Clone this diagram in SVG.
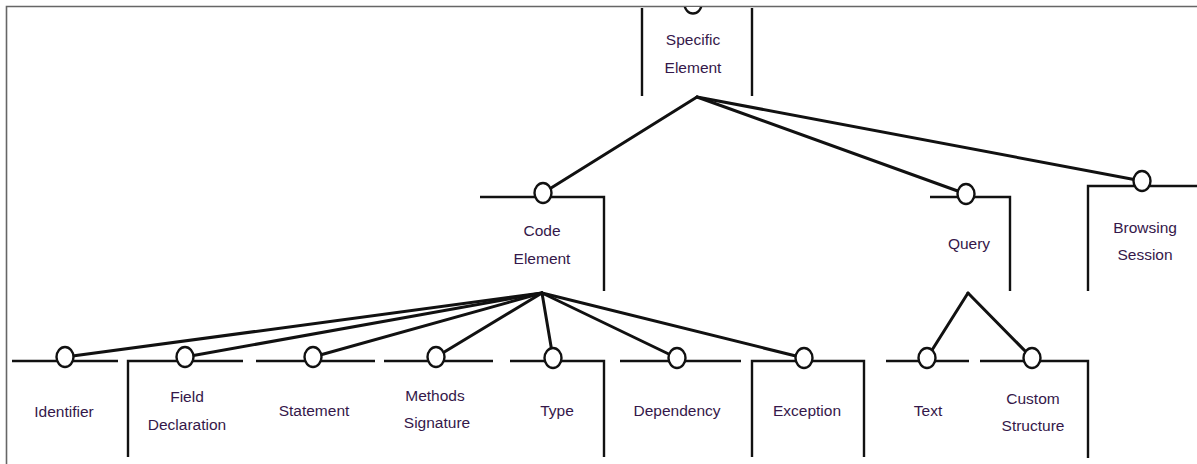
<svg xmlns="http://www.w3.org/2000/svg" width="1197" height="464" viewBox="0 0 1197 464">
  <style>
    .frame { fill: none; stroke: #666; stroke-width: 1.6; }
    .box { fill: none; stroke: #111; stroke-width: 2.4; stroke-linecap: butt; }
    .port { fill: #fff; stroke: #111; stroke-width: 2.4; }
    .link { fill: none; stroke: #111; stroke-width: 3; stroke-linecap: round; }
    .label { font-family: "Liberation Sans", Arial, sans-serif; font-size: 15.5px; fill: #35184a; text-anchor: middle; }
  </style>
  <defs>
    <clipPath id="below-frame">
      <rect x="7" y="7" width="1190" height="457"/>
    </clipPath>
  </defs>

  <!-- page frame -->
  <path class="frame" d="M6.5,464 V6.5 H1197"/>

  <!-- connectors -->
  <g id="connectors">
    <line class="link" x1="697" y1="97" x2="543" y2="193"/>
    <line class="link" x1="697" y1="97" x2="966" y2="194"/>
    <line class="link" x1="697" y1="97" x2="1142" y2="181"/>
    <line class="link" x1="542" y1="293" x2="65" y2="357"/>
    <line class="link" x1="542" y1="293" x2="185" y2="357"/>
    <line class="link" x1="542" y1="293" x2="313" y2="357"/>
    <line class="link" x1="542" y1="293" x2="436" y2="357"/>
    <line class="link" x1="542" y1="293" x2="553" y2="358"/>
    <line class="link" x1="542" y1="293" x2="677" y2="358"/>
    <line class="link" x1="542" y1="293" x2="804" y2="358"/>
    <line class="link" x1="968" y1="293" x2="927" y2="358"/>
    <line class="link" x1="968" y1="293" x2="1032" y2="358"/>
  </g>

  <g id="specific-element">
    <path class="box" d="M642,8 V96 M752,8 V96"/>
    <ellipse class="port" cx="693" cy="4" rx="8.5" ry="9.5" clip-path="url(#below-frame)"/>
    <text class="label" x="693" y="45">Specific</text>
    <text class="label" x="693" y="73">Element</text>
  </g>

  <g id="code-element">
    <path class="box" d="M480,197 H604 V291"/>
    <ellipse class="port" cx="543" cy="193" rx="8.5" ry="10"/>
    <text class="label" x="542" y="236">Code</text>
    <text class="label" x="542" y="264">Element</text>
  </g>

  <g id="query">
    <path class="box" d="M930,197 H1010 V291"/>
    <ellipse class="port" cx="966" cy="194" rx="8.5" ry="10"/>
    <text class="label" x="969" y="249">Query</text>
  </g>

  <g id="browsing-session">
    <path class="box" d="M1197,186 H1088 V291"/>
    <ellipse class="port" cx="1142" cy="181" rx="8.5" ry="10"/>
    <text class="label" x="1145" y="233">Browsing</text>
    <text class="label" x="1145" y="260">Session</text>
  </g>

  <g id="identifier">
    <path class="box" d="M12,361 H118"/>
    <ellipse class="port" cx="65" cy="357" rx="8.5" ry="10"/>
    <text class="label" x="64" y="417">Identifier</text>
  </g>

  <g id="field-declaration">
    <path class="box" d="M128,457 V361 H243"/>
    <ellipse class="port" cx="185" cy="357" rx="8.5" ry="10"/>
    <text class="label" x="187" y="402">Field</text>
    <text class="label" x="187" y="430">Declaration</text>
  </g>

  <g id="statement">
    <path class="box" d="M256,361 H375"/>
    <ellipse class="port" cx="313" cy="357" rx="8.5" ry="10"/>
    <text class="label" x="314" y="416">Statement</text>
  </g>

  <g id="methods-signature">
    <path class="box" d="M384,361 H493"/>
    <ellipse class="port" cx="436" cy="357" rx="8.5" ry="10"/>
    <text class="label" x="435" y="401">Methods</text>
    <text class="label" x="437" y="428">Signature</text>
  </g>

  <g id="type">
    <path class="box" d="M510,361 H604 V457"/>
    <ellipse class="port" cx="553" cy="358" rx="8.5" ry="10"/>
    <text class="label" x="557" y="416">Type</text>
  </g>

  <g id="dependency">
    <path class="box" d="M620,361 H741"/>
    <ellipse class="port" cx="677" cy="358" rx="8.5" ry="10"/>
    <text class="label" x="677" y="416">Dependency</text>
  </g>

  <g id="exception">
    <path class="box" d="M752,457 V361 H864 V457"/>
    <ellipse class="port" cx="804" cy="358" rx="8.5" ry="10"/>
    <text class="label" x="807" y="416">Exception</text>
  </g>

  <g id="text">
    <path class="box" d="M886,361 H969"/>
    <ellipse class="port" cx="927" cy="358" rx="8.5" ry="10"/>
    <text class="label" x="928" y="416">Text</text>
  </g>

  <g id="custom-structure">
    <path class="box" d="M980,361 H1088 V458"/>
    <ellipse class="port" cx="1032" cy="358" rx="8.5" ry="10"/>
    <text class="label" x="1033" y="404">Custom</text>
    <text class="label" x="1033" y="431">Structure</text>
  </g>
</svg>
